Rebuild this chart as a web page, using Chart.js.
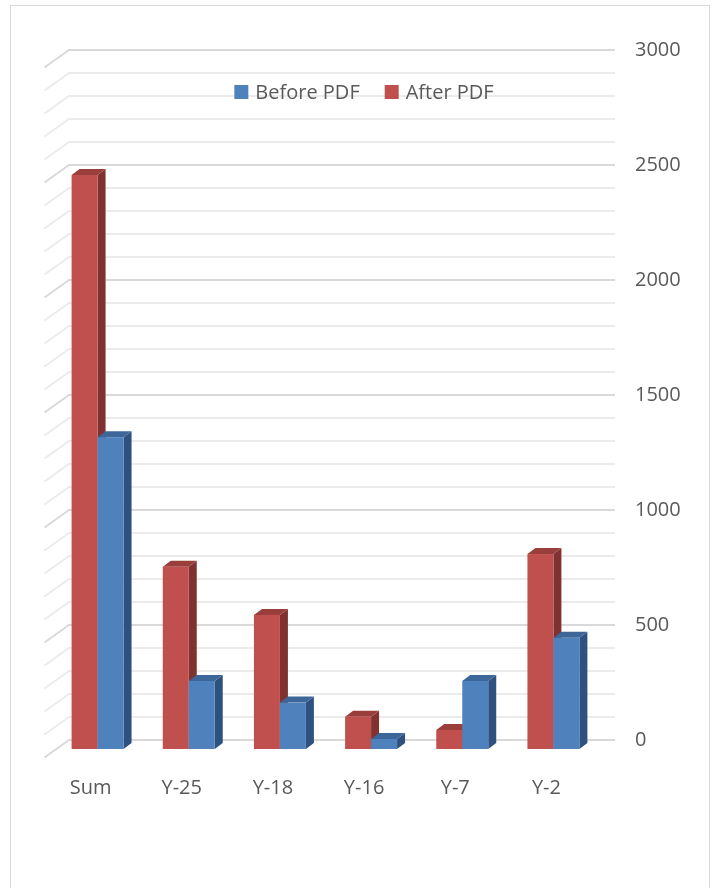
<!DOCTYPE html>
<html>
<head>
<meta charset="utf-8">
<style>
  html, body { margin: 0; padding: 0; background: #ffffff; }
  canvas { display: block; }
</style>
<script src="https://cdn.jsdelivr.net/npm/chart.js@4.4.1/dist/chart.umd.min.js"></script>
</head>
<body>
<canvas id="chart" width="715" height="888"></canvas>
<script>
// Category labels and series values
const categories = ['Sum', 'Y-25', 'Y-18', 'Y-16', 'Y-7', 'Y-2'];
const afterPdf  = [2500, 797, 587, 145, 87, 852];
const beforePdf = [1360, 300, 206, 48, 300, 488];
const yLabelValues = [0, 500, 1000, 1500, 2000, 2500, 3000];

const TEXT_COLOR = '#595959';
const FONT_FAMILY = '"Open Sans", "Liberation Sans", sans-serif';

// Face colours for each series: front, side, top
const faces = {
  after:  { front: '#c0504d', side: '#7f3230', top: '#9a3e3b' },
  before: { front: '#4f81bd', side: '#2f5180', top: '#3d6699' }
};

// Pseudo-3D geometry: bars sit in front of the back wall,
// the floor recedes to the lower left.
const FRONT_DX = -16, FRONT_DY = 10;   // bar front face vs. back wall
const DEPTH_DX = 8,   DEPTH_DY = -6;   // bar depth (side / top faces)
const WALL_DX = -23.5, WALL_DY = 17.5; // side wall edge of each gridline

function gridColor(value) {
  return value % 500 === 0 ? '#d9d9d9' : '#ebebeb';
}

const backgroundPlugin = {
  id: 'background',
  beforeDraw(chart) {
    const ctx = chart.ctx;
    ctx.save();
    ctx.fillStyle = '#ffffff';
    ctx.fillRect(0, 0, chart.width, chart.height);
    ctx.strokeStyle = '#d9d9d9';
    ctx.lineWidth = 1;
    ctx.strokeRect(10.5, 5.5, 699, 920);
    ctx.restore();
  }
};

// Side-wall edges of the gridlines
const wallPlugin = {
  id: 'wall',
  beforeDatasetsDraw(chart) {
    const ctx = chart.ctx;
    const y = chart.scales.y;
    const left = chart.chartArea.left;
    ctx.save();
    ctx.lineWidth = 2;
    y.ticks.forEach(t => {
      const py = y.getPixelForValue(t.value);
      ctx.strokeStyle = gridColor(t.value);
      ctx.beginPath();
      ctx.moveTo(left + 1, py);
      ctx.lineTo(left + WALL_DX, py + WALL_DY);
      ctx.stroke();
    });
    ctx.restore();
  }
};

function drawBar(ctx, el, c) {
  const p = el.getProps(['x', 'y', 'base', 'width'], true);
  const l = p.x - p.width / 2 + FRONT_DX;
  const r = p.x + p.width / 2 + FRONT_DX;
  const t = p.y + FRONT_DY;
  const b = p.base + FRONT_DY;
  // side face
  ctx.fillStyle = c.side;
  ctx.beginPath();
  ctx.moveTo(r, t);
  ctx.lineTo(r + DEPTH_DX, t + DEPTH_DY);
  ctx.lineTo(r + DEPTH_DX, b + DEPTH_DY);
  ctx.lineTo(r, b);
  ctx.closePath();
  ctx.fill();
  // top face
  ctx.fillStyle = c.top;
  ctx.beginPath();
  ctx.moveTo(l, t);
  ctx.lineTo(l + DEPTH_DX, t + DEPTH_DY);
  ctx.lineTo(r + DEPTH_DX, t + DEPTH_DY);
  ctx.lineTo(r, t);
  ctx.closePath();
  ctx.fill();
  // front face
  ctx.fillStyle = c.front;
  ctx.fillRect(l, t, r - l, b - t);
}

// Draws the columns as 3D boxes, category by category, left series first
const bars3dPlugin = {
  id: 'bars3d',
  beforeDatasetsDraw(chart) {
    const ctx = chart.ctx;
    const metas = chart.data.datasets.map((d, i) => chart.getDatasetMeta(i));
    ctx.save();
    for (let i = 0; i < categories.length; i++) {
      metas.forEach((meta, di) => {
        const el = meta.data[i];
        if (el) drawBar(ctx, el, chart.data.datasets[di].faceColors);
      });
    }
    ctx.restore();
    return false;
  }
};

// Legend drawn inside the plot, series listed in reverse order
const legendPlugin = {
  id: 'innerLegend',
  afterDraw(chart) {
    const ctx = chart.ctx;
    const items = chart.data.datasets.slice().reverse();
    const box = 14, textGap = 7, itemGap = 25;
    ctx.save();
    ctx.font = '20px ' + FONT_FAMILY;
    ctx.textBaseline = 'middle';
    const widths = items.map(d => ctx.measureText(d.label).width);
    let total = 0;
    widths.forEach((w, i) => { total += box + textGap + w + (i ? itemGap : 0); });
    const cy = 92;
    let x = 364 - total / 2;
    items.forEach((d, i) => {
      ctx.fillStyle = d.faceColors.front;
      ctx.fillRect(x, cy - box / 2, box, box);
      x += box + textGap;
      ctx.fillStyle = TEXT_COLOR;
      ctx.fillText(d.label, x, cy + 1);
      x += widths[i] + itemGap;
    });
    ctx.restore();
  }
};

new Chart(document.getElementById('chart'), {
  type: 'bar',
  data: {
    labels: categories,
    datasets: [
      {
        label: 'After PDF',
        data: afterPdf,
        backgroundColor: faces.after.front,
        faceColors: faces.after
      },
      {
        label: 'Before PDF',
        data: beforePdf,
        backgroundColor: faces.before.front,
        faceColors: faces.before
      }
    ]
  },
  options: {
    responsive: false,
    animation: false,
    devicePixelRatio: 1,
    layout: { padding: { left: 68, top: 50, right: 0, bottom: 0 } },
    datasets: {
      bar: { categoryPercentage: 0.57, barPercentage: 1.0 }
    },
    plugins: {
      legend: { display: false },
      tooltip: { enabled: false }
    },
    scales: {
      x: {
        grid: { display: false },
        border: { display: false },
        ticks: {
          color: TEXT_COLOR,
          font: { family: FONT_FAMILY, size: 20 },
          padding: 28,
          labelOffset: -23,
          maxRotation: 0
        },
        afterFit(scale) { scale.height = 148; }
      },
      y: {
        position: 'right',
        min: 0,
        max: 3000,
        border: { display: false },
        grid: {
          drawTicks: false,
          lineWidth: 2,
          color: ctx => gridColor(ctx.tick.value)
        },
        ticks: {
          stepSize: 100,
          autoSkip: false,
          padding: 20,
          color: TEXT_COLOR,
          font: { family: FONT_FAMILY, size: 20 },
          callback: v => (yLabelValues.includes(v) ? String(v) : '')
        },
        afterFit(scale) { scale.width = 100; }
      }
    }
  },
  plugins: [backgroundPlugin, wallPlugin, bars3dPlugin, legendPlugin]
});
</script>
</body>
</html>
